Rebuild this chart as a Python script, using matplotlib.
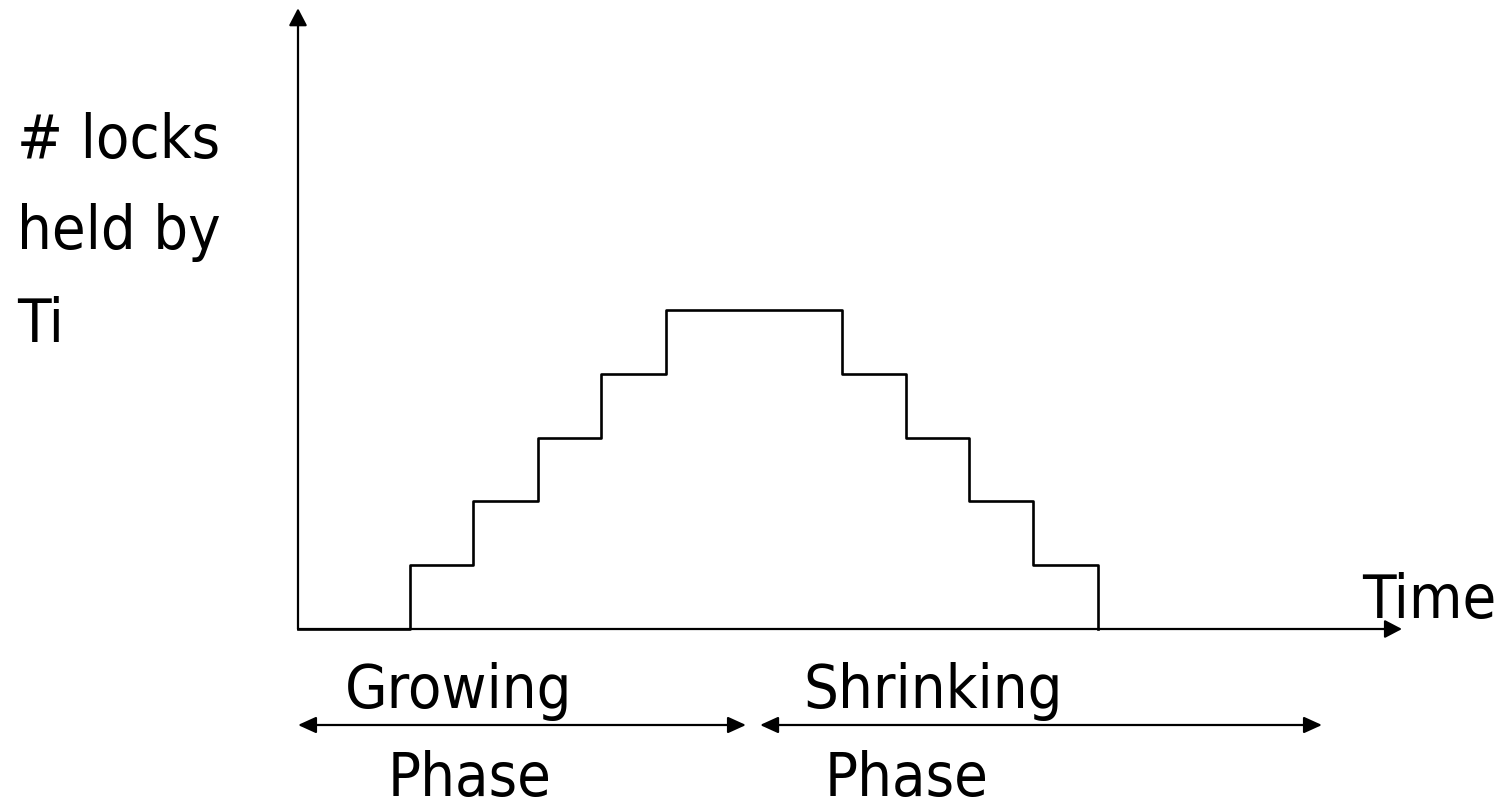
import matplotlib
matplotlib.use('Agg')
import matplotlib.pyplot as plt

# Two-phase locking: locks held by Ti over time
lock_times = [0, 1.75, 2.73, 3.75, 4.73, 5.75, 8.5, 9.5, 10.48, 11.48, 12.5]
locks_held = [0, 1, 2, 3, 4, 5, 4, 3, 2, 1, 0]
growing_span = [0.0, 7.0]
shrinking_span = [7.22, 16.0]
axis_end_x = 17.25
axis_end_y = 9.73

ylabel_lines = ['# locks', 'held by', 'Ti']

# pixel scale: origin at (298, 629), 64 px per x unit, 63.8 px per y unit
W, H = 1506, 809
ux, uy = 64.0, 63.8
fig = plt.figure(figsize=(W / 100, H / 100), dpi=100)
ax = fig.add_axes([0, 0, 1, 1])
ax.set_xlim(-298 / ux, (W - 298) / ux)
ax.set_ylim(-(H - 629) / uy, 629 / uy)
ax.axis('off')

font = dict(family='DejaVu Sans', fontstretch='condensed', fontsize=44, color='black')

# axes with arrows
arrow = dict(arrowstyle='-|>,head_length=1.05,head_width=0.55', color='black', lw=1.6,
             shrinkA=0, shrinkB=0)
ax.annotate('', xy=(0, axis_end_y), xytext=(0, 0), arrowprops=arrow)
ax.annotate('', xy=(axis_end_x, 0), xytext=(0, 0), arrowprops=arrow)

# step curve
ax.step(lock_times, locks_held, where='post', color='black', lw=1.9)

# phase arrows
darrow = dict(arrowstyle='<|-|>,head_length=1.1,head_width=0.5', color='black', lw=1.6,
              shrinkA=0, shrinkB=0)
y_ph = -(725 - 629) / uy
ax.annotate('', xy=(growing_span[1], y_ph), xytext=(growing_span[0], y_ph), arrowprops=darrow)
ax.annotate('', xy=(shrinking_span[1], y_ph), xytext=(shrinking_span[0], y_ph), arrowprops=darrow)

def px(x, y):
    return (x - 298) / ux, (629 - y) / uy

for line, base in zip(ylabel_lines, [158, 249, 342]):
    ax.text(*px(17, base), line, ha='left', va='baseline', **font)
ax.text(*px(1362, 618), 'Time', ha='left', va='baseline', **font)
ax.text(*px(345, 708), 'Growing', ha='left', va='baseline', **font)
ax.text(*px(388, 796), 'Phase', ha='left', va='baseline', **font)
ax.text(*px(803, 708), 'Shrinking', ha='left', va='baseline', **font)
ax.text(*px(825, 796), 'Phase', ha='left', va='baseline', **font)

fig.savefig('out.png', dpi=100, facecolor='white')
